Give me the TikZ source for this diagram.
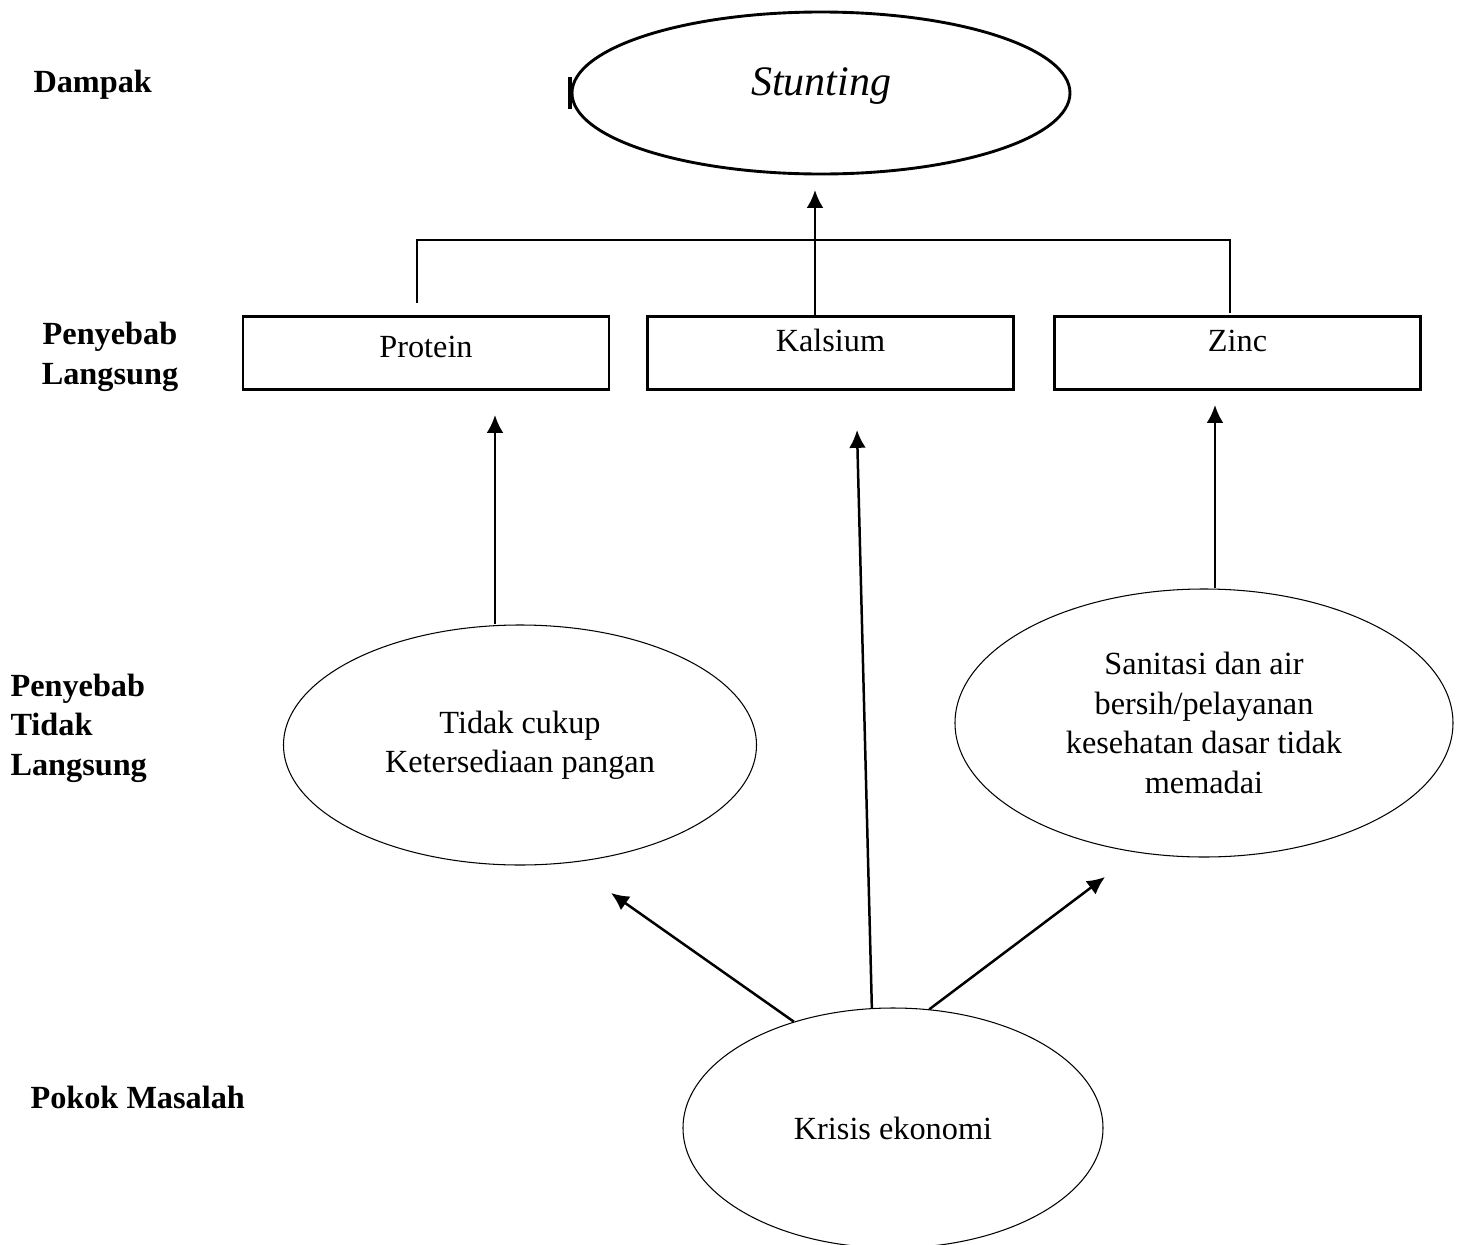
\documentclass[tikz,border=0pt]{standalone}
\usepackage{fontspec}
\setmainfont{Liberation Serif}
\usetikzlibrary{shapes.geometric,arrows.meta}
\def\px{0.381pt}
\tikzset{
  level/.style={font=\fontsize{12.3}{15}\selectfont\bfseries, inner sep=0pt},
  box/.style={draw, line width=1.1pt, minimum width=366*\px, minimum height=73*\px,
    inner sep=0pt, text height=7.9pt, text depth=8.7pt, font=\fontsize{12.3}{15}\selectfont},
  bubble/.style={draw, ellipse, line width=0.4pt, inner sep=0pt, align=center,
    font=\fontsize{12.3}{15}\selectfont},
  link/.style={line width=0.6pt},
  cause/.style={->, line width=0.95pt}
}
\begin{document}
\begin{tikzpicture}[x=\px, y=-\px]
	\tikzset{>={Latex[length=6.8pt,width=6.4pt]}}
	\useasboundingbox (0,0) rectangle (1463,1245);
	% levels on the left
	\node[level, anchor=base west] (dampak) at (33,92) {Dampak};
	\node[level, anchor=base, align=center] (langsung) at (110,384) {Penyebab\\Langsung};
	\node[level, anchor=base west, align=left] (tidak) at (10,775) {Penyebab\\Tidak\\Langsung};
	\node[level, anchor=base west] (pokok) at (30,1108) {Pokok Masalah};
	% impact
	\node[draw, ellipse, line width=1.1pt, minimum width=498*\px, minimum height=162*\px,
		inner sep=0pt, text depth=9pt, font=\fontsize{16}{19}\selectfont\itshape] (stunting) at (821,93) {Stunting};
	\draw[line width=1.5pt] (stunting.west) ++(-1,-16) -- ++(0,32);
	% direct causes
	\node[box, text depth=4.5pt] (protein) at (426,353) {Protein};
	\node[box] (kalsium) at (830.5,353) {Kalsium};
	\node[box] (zinc) at (1237.5,353) {Zinc};
	\coordinate (pt) at (417,303);
	\coordinate (zt) at (1230,313);
	\draw[link] (pt) |- (1230,240) -- (zt);
	\draw[cause] (kalsium.north -| 815,0) -- (815,190);
	% indirect causes
	\node[bubble, minimum width=473*\px, minimum height=240*\px] (pangan) at (520,745)
		{Tidak cukup\\Ketersediaan pangan};
	\node[bubble, minimum width=498*\px, minimum height=268*\px] (sanitasi) at (1204,723)
		{Sanitasi dan air\\bersih/pelayanan\\kesehatan dasar tidak\\memadai};
	\coordinate (pa) at (495,415);
	\coordinate (za) at (1215,405);
	\draw[cause] (pangan.north -| pa) -- (pa);
	\draw[cause] (sanitasi.north -| za) -- (za);
	% root problem
	\node[bubble, minimum width=420*\px, minimum height=240*\px] (krisis) at (893,1128) {Krisis ekonomi};
	\coordinate (ka) at (857,430);
	\coordinate (la) at (611,893);
	\coordinate (ra) at (1105,877);
	\draw[cause] (krisis.100) -- (ka);
	\draw[cause] (krisis.133) -- (la);
	\draw[cause] (krisis.73) -- (ra);
\end{tikzpicture}
\end{document}
